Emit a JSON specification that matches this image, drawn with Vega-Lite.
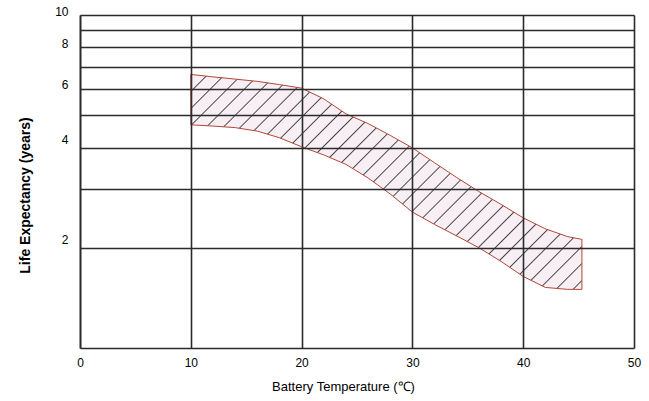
{
  "$schema": "https://vega.github.io/schema/vega-lite/v6.json",
  "autosize": {"type": "none"},
  "padding": {"left": 80, "top": 15, "right": 15, "bottom": 53},
  "width": 554,
  "height": 333,
  "background": "white",
  "config": {"view": {"stroke": null}, "font": "Liberation Sans"},
  "data": {"values": [
    {"t": 10, "hi": 6.63, "lo": 4.68},
    {"t": 12, "hi": 6.52, "lo": 4.64},
    {"t": 14, "hi": 6.42, "lo": 4.59},
    {"t": 16, "hi": 6.32, "lo": 4.48},
    {"t": 18, "hi": 6.18, "lo": 4.28},
    {"t": 20, "hi": 6.03, "lo": 4.02},
    {"t": 22, "hi": 5.6, "lo": 3.8},
    {"t": 24, "hi": 5.05, "lo": 3.56},
    {"t": 26, "hi": 4.72, "lo": 3.24},
    {"t": 28, "hi": 4.35, "lo": 2.9},
    {"t": 30, "hi": 3.99, "lo": 2.56},
    {"t": 32, "hi": 3.6, "lo": 2.35},
    {"t": 34, "hi": 3.25, "lo": 2.17},
    {"t": 36, "hi": 2.95, "lo": 2.0},
    {"t": 38, "hi": 2.7, "lo": 1.82},
    {"t": 40, "hi": 2.46, "lo": 1.64},
    {"t": 42, "hi": 2.28, "lo": 1.52},
    {"t": 44, "hi": 2.16, "lo": 1.5},
    {"t": 45.3, "hi": 2.12, "lo": 1.5}
  ]},
  "mark": {
    "type": "area",
    "stroke": "#b0473a",
    "strokeWidth": 1,
    "fill": {
      "gradient": "linear", "x1": 0, "y1": 0, "x2": 1.34, "y2": 0.7375,
      "stops": [
        {"offset": 0, "color": "#444"}, {"offset": 0.002, "color": "#f7eff4"}, {"offset": 0.023, "color": "#f7eff4"},
        {"offset": 0.025, "color": "#444"}, {"offset": 0.027, "color": "#f7eff4"}, {"offset": 0.048, "color": "#f7eff4"},
        {"offset": 0.05, "color": "#444"}, {"offset": 0.052, "color": "#f7eff4"}, {"offset": 0.073, "color": "#f7eff4"},
        {"offset": 0.075, "color": "#444"}, {"offset": 0.077, "color": "#f7eff4"}, {"offset": 0.098, "color": "#f7eff4"},
        {"offset": 0.1, "color": "#444"}, {"offset": 0.102, "color": "#f7eff4"}, {"offset": 0.123, "color": "#f7eff4"},
        {"offset": 0.125, "color": "#444"}, {"offset": 0.127, "color": "#f7eff4"}, {"offset": 0.148, "color": "#f7eff4"},
        {"offset": 0.15, "color": "#444"}, {"offset": 0.152, "color": "#f7eff4"}, {"offset": 0.173, "color": "#f7eff4"},
        {"offset": 0.175, "color": "#444"}, {"offset": 0.177, "color": "#f7eff4"}, {"offset": 0.198, "color": "#f7eff4"},
        {"offset": 0.2, "color": "#444"}, {"offset": 0.202, "color": "#f7eff4"}, {"offset": 0.223, "color": "#f7eff4"},
        {"offset": 0.225, "color": "#444"}, {"offset": 0.227, "color": "#f7eff4"}, {"offset": 0.248, "color": "#f7eff4"},
        {"offset": 0.25, "color": "#444"}, {"offset": 0.252, "color": "#f7eff4"}, {"offset": 0.273, "color": "#f7eff4"},
        {"offset": 0.275, "color": "#444"}, {"offset": 0.277, "color": "#f7eff4"}, {"offset": 0.298, "color": "#f7eff4"},
        {"offset": 0.3, "color": "#444"}, {"offset": 0.302, "color": "#f7eff4"}, {"offset": 0.323, "color": "#f7eff4"},
        {"offset": 0.325, "color": "#444"}, {"offset": 0.327, "color": "#f7eff4"}, {"offset": 0.348, "color": "#f7eff4"},
        {"offset": 0.35, "color": "#444"}, {"offset": 0.352, "color": "#f7eff4"}, {"offset": 0.373, "color": "#f7eff4"},
        {"offset": 0.375, "color": "#444"}, {"offset": 0.377, "color": "#f7eff4"}, {"offset": 0.398, "color": "#f7eff4"},
        {"offset": 0.4, "color": "#444"}, {"offset": 0.402, "color": "#f7eff4"}, {"offset": 0.423, "color": "#f7eff4"},
        {"offset": 0.425, "color": "#444"}, {"offset": 0.427, "color": "#f7eff4"}, {"offset": 0.448, "color": "#f7eff4"},
        {"offset": 0.45, "color": "#444"}, {"offset": 0.452, "color": "#f7eff4"}, {"offset": 0.473, "color": "#f7eff4"},
        {"offset": 0.475, "color": "#444"}, {"offset": 0.477, "color": "#f7eff4"}, {"offset": 0.498, "color": "#f7eff4"},
        {"offset": 0.5, "color": "#444"}, {"offset": 0.502, "color": "#f7eff4"}, {"offset": 0.523, "color": "#f7eff4"},
        {"offset": 0.525, "color": "#444"}, {"offset": 0.527, "color": "#f7eff4"}, {"offset": 0.548, "color": "#f7eff4"},
        {"offset": 0.55, "color": "#444"}, {"offset": 0.552, "color": "#f7eff4"}, {"offset": 0.573, "color": "#f7eff4"},
        {"offset": 0.575, "color": "#444"}, {"offset": 0.577, "color": "#f7eff4"}, {"offset": 0.598, "color": "#f7eff4"},
        {"offset": 0.6, "color": "#444"}, {"offset": 0.602, "color": "#f7eff4"}, {"offset": 0.623, "color": "#f7eff4"},
        {"offset": 0.625, "color": "#444"}, {"offset": 0.627, "color": "#f7eff4"}, {"offset": 0.648, "color": "#f7eff4"},
        {"offset": 0.65, "color": "#444"}, {"offset": 0.652, "color": "#f7eff4"}, {"offset": 0.673, "color": "#f7eff4"},
        {"offset": 0.675, "color": "#444"}, {"offset": 0.677, "color": "#f7eff4"}, {"offset": 0.698, "color": "#f7eff4"},
        {"offset": 0.7, "color": "#444"}, {"offset": 0.702, "color": "#f7eff4"}, {"offset": 0.723, "color": "#f7eff4"},
        {"offset": 0.725, "color": "#444"}, {"offset": 0.727, "color": "#f7eff4"}, {"offset": 0.748, "color": "#f7eff4"},
        {"offset": 0.75, "color": "#444"}, {"offset": 0.752, "color": "#f7eff4"}, {"offset": 0.773, "color": "#f7eff4"},
        {"offset": 0.775, "color": "#444"}, {"offset": 0.777, "color": "#f7eff4"}, {"offset": 0.798, "color": "#f7eff4"},
        {"offset": 0.8, "color": "#444"}, {"offset": 0.802, "color": "#f7eff4"}, {"offset": 0.823, "color": "#f7eff4"},
        {"offset": 0.825, "color": "#444"}, {"offset": 0.827, "color": "#f7eff4"}, {"offset": 0.848, "color": "#f7eff4"},
        {"offset": 0.85, "color": "#444"}, {"offset": 0.852, "color": "#f7eff4"}, {"offset": 0.873, "color": "#f7eff4"},
        {"offset": 0.875, "color": "#444"}, {"offset": 0.877, "color": "#f7eff4"}, {"offset": 0.898, "color": "#f7eff4"},
        {"offset": 0.9, "color": "#444"}, {"offset": 0.902, "color": "#f7eff4"}, {"offset": 0.923, "color": "#f7eff4"},
        {"offset": 0.925, "color": "#444"}, {"offset": 0.927, "color": "#f7eff4"}, {"offset": 0.948, "color": "#f7eff4"},
        {"offset": 0.95, "color": "#444"}, {"offset": 0.952, "color": "#f7eff4"}, {"offset": 0.973, "color": "#f7eff4"},
        {"offset": 0.975, "color": "#444"}, {"offset": 0.977, "color": "#f7eff4"}, {"offset": 0.998, "color": "#f7eff4"},
        {"offset": 1, "color": "#444"}
      ]
    }
  },
  "encoding": {
    "x": {
      "field": "t", "type": "quantitative",
      "scale": {"domain": [0, 50], "nice": false},
      "axis": {
        "values": [0, 10, 20, 30, 40, 50],
        "grid": true, "gridColor": "#2b2b2b", "gridWidth": 1.6, "gridOpacity": 1,
        "domainColor": "#2b2b2b", "domainWidth": 1.6,
        "ticks": false, "zindex": 1, "labelFlush": false,
        "labelFontSize": 12, "labelColor": "#000", "labelPadding": 9,
        "title": "Battery Temperature (℃)", "titleFontSize": 13, "titleFontWeight": "normal",
        "titleColor": "#000", "titlePadding": 12, "titleX": 263
      }
    },
    "y": {
      "field": "hi", "type": "quantitative",
      "scale": {"type": "log", "domain": [1, 10], "nice": false},
      "axis": {
        "values": [2, 3, 4, 5, 6, 7, 8, 9, 10],
        "labelExpr": "indexof([2,4,6,8,10], datum.value) >= 0 ? format(datum.value, 'd') : ''",
        "grid": true, "gridColor": "#2b2b2b", "gridWidth": 1.6, "gridOpacity": 1,
        "domainColor": "#2b2b2b", "domainWidth": 1.6,
        "ticks": false, "zindex": 1,
        "labelFontSize": 12, "labelColor": "#000", "labelPadding": 12,
        "labelOffset": {"condition": {"test": "datum.value <= 4", "value": -8}, "value": -4},
        "title": "Life Expectancy (years)", "titleFontSize": 14, "titleFontWeight": "bold",
        "titleColor": "#000", "titlePadding": 22, "titleY": 180
      }
    },
    "y2": {"field": "lo"}
  }
}
